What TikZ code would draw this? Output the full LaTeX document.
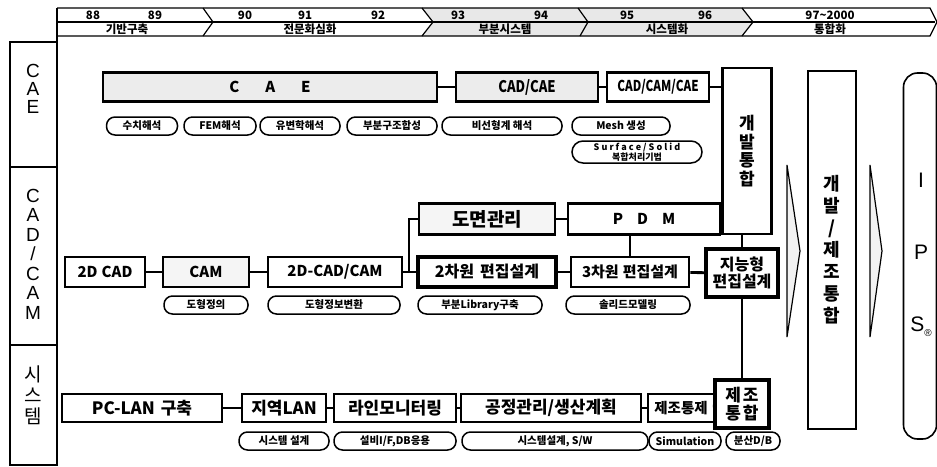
\documentclass[tikz,border=0pt]{standalone}
\usepackage{fontspec}
\setmainfont{Noto Sans CJK KR}
\newfontfamily\lat{Liberation Sans}
\newcommand{\cond}[2][0.82]{\scalebox{#1}[1]{#2}}
\begin{document}
\begin{tikzpicture}[x=1pt,y=-1pt,
  box/.style={draw, line width=2.8pt, inner sep=0pt, fill=white, font=\bfseries\fontsize{15}{17}\selectfont, align=center},
  heavybox/.style={box, line width=4.2pt},
  oval/.style={draw, line width=1.5pt, rounded corners=8.5pt, inner sep=0pt, minimum height=18pt, fill=white, font=\bfseries\fontsize{10.5}{11}\selectfont, align=center},
  conn/.style={line width=2.8pt},
  thin/.style={line width=1.2pt},
  tl/.style={inner sep=0pt, font=\bfseries\fontsize{11.5}{11.5}\selectfont},
  side/.style={inner sep=0pt, align=center},
  shade/.style={fill=gray!18}
]
\useasboundingbox (0,0) rectangle (937,466);
% ---------- timeline ----------
\fill[shade] (422,8) -- (578,8) -- (588,22) -- (580,36) -- (422,36) -- (433,22) -- cycle;
\fill[shade] (578,8) -- (742,8) -- (753,22) -- (742,36) -- (580,36) -- (588,22) -- cycle;
\draw[thin] (57,8) -- (930,8) -- (937,22) -- (930,36) -- (57,36);
\draw[thin] (57,22) -- (935,22);
\draw[thin] (203,8) -- (213,22) -- (203,36);
\draw[thin] (422,8) -- (433,22) -- (422,36);
\draw[thin] (578,8) -- (588,22) -- (580,36);
\draw[thin] (742,8) -- (753,22) -- (742,36);
\node[tl] (y88) at (93,15) {88};
\node[tl] (y89) at (155,15) {89};
\node[tl] (y90) at (245,15) {90};
\node[tl] (y91) at (305,15) {91};
\node[tl] (y92) at (378,15) {92};
\node[tl] (y93) at (458,15) {93};
\node[tl] (y94) at (541,15) {94};
\node[tl] (y95) at (627,15) {95};
\node[tl] (y96) at (705,15) {96};
\node[tl] (y97) at (830,15) {97\textasciitilde2000};
\node[tl] (p1) at (127,29) {기반구축};
\node[tl] (p2) at (310,29) {전문화심화};
\node[tl] (p3) at (505,29) {부분시스템};
\node[tl] (p4) at (667,29) {시스템화};
\node[tl] (p5) at (830,29) {통합화};
% ---------- left column ----------
\draw[thin] (57,8) -- (57,466);
\draw[thin] (10,42) rectangle (57,465);
\draw[thin] (10,167) -- (57,167);
\draw[thin] (10,345) -- (57,345);
\node[side, font=\lat\fontsize{19}{18}\selectfont] (lcae) at (33,89) {C\\A\\E};
\node[side, font=\lat\fontsize{19}{19.5}\selectfont] (lcad) at (33,254) {C\\A\\D\\/\\C\\A\\M};
\node[side, font=\fontsize{19}{21}\selectfont] (lsys) at (33,395) {시\\스\\템};
% ---------- CAE row ----------
\node[box, fill=gray!15, minimum width=334pt, minimum height=29pt] (cae) at (270,87) {C\hspace{26pt}A\hspace{26pt}E};
\node[box, fill=gray!15, minimum width=142pt, minimum height=29pt, font=\bfseries\fontsize{16}{17}\selectfont] (cadcae) at (527,87) {\cond{CAD/CAE}};
\node[box, minimum width=102pt, minimum height=29pt] (cadcamcae) at (658,87) {\cond[0.78]{CAD/CAM/CAE}};
\node[box, minimum width=49pt, minimum height=166pt, font=\bfseries\fontsize{17}{18.5}\selectfont] (dev) at (747,151) {개\\발\\통\\합};
\node[oval, minimum width=71pt] (o1) at (142,126) {수치해석};
\node[oval, minimum width=72pt] (o2) at (220,126) {FEM해석};
\node[oval, minimum width=80pt] (o3) at (300,126) {유변학해석};
\node[oval, minimum width=90pt] (o4) at (392,126) {부분구조합성};
\node[oval, minimum width=120pt] (o5) at (502,126) {비선형계 해석};
\node[oval, minimum width=98pt] (o6) at (621,126) {Mesh 생성};
\node[oval, minimum width=130pt, minimum height=22pt, rounded corners=11pt, font=\bfseries\fontsize{9}{9.5}\selectfont] (o7) at (637,152) {S u r f a c e / S o l i d\\복합처리기법};
\draw[conn] (cae) -- (cadcae);
\draw[conn] (cadcae) -- (cadcamcae);
\draw[conn] (cadcamcae.east) -- (cadcamcae.east -| dev.west);
% ---------- CAD/CAM row ----------
\node[box, minimum width=80pt, minimum height=30pt] (cad2d) at (105,272) {2D\hspace{4pt}CAD};
\node[box, fill=gray!8, minimum width=86pt, minimum height=30pt] (cam) at (206,272) {CAM};
\node[box, minimum width=134pt, minimum height=30pt] (cad2dcam) at (335,272) {2D-CAD/CAM};
\node[heavybox, minimum width=138pt, minimum height=30pt, font=\bfseries\fontsize{16}{17}\selectfont] (ed2) at (487,272) {2차원\hspace{6pt}편집설계};
\node[box, minimum width=118pt, minimum height=30pt] (ed3) at (630,272) {3차원\hspace{4pt}편집설계};
\node[heavybox, minimum width=72pt, minimum height=48pt, font=\bfseries\fontsize{16}{17}\selectfont] (intel) at (742,273) {지능형\\편집설계};
\node[box, fill=gray!8, minimum width=136pt, minimum height=31pt, font=\bfseries\fontsize{19}{19}\selectfont] (dwg) at (487,219) {도면관리};
\node[box, minimum width=152pt, minimum height=31pt] (pdm) at (644,219) {P\hspace{14pt}D\hspace{14pt}M};
\coordinate (j1) at (409,272);
\node[oval, minimum width=84pt] (o8) at (206,305) {도형정의};
\node[oval, minimum width=132pt] (o9) at (334,305) {도형정보변환};
\node[oval, minimum width=124pt] (o10) at (480,305) {부분Library구축};
\node[oval, minimum width=124pt] (o11) at (628,305) {솔리드모델링};
\draw[conn] (cad2d) -- (cam);
\draw[conn] (cam) -- (cad2dcam);
\draw[conn] (cad2dcam) -- (ed2);
\draw[conn] (j1) |- (dwg.west);
\draw[conn] (dwg) -- (pdm);
\draw[conn] (pdm.east) -- (pdm.east -| dev.west);
\draw[conn] (ed3.north) -- (ed3.north |- pdm.south);
\draw[conn] (ed2) -- (ed3);
\draw[conn] (ed3) -- (intel);
\draw[conn] (intel.north) -- (intel.north |- dev.south);
% ---------- system row ----------
\node[box, minimum width=160pt, minimum height=28pt, font=\bfseries\fontsize{17}{17}\selectfont] (pclan) at (142,408) {PC-LAN\hspace{6pt}구축};
\node[box, minimum width=84pt, minimum height=28pt, font=\bfseries\fontsize{17}{17}\selectfont] (lan) at (284,408) {지역LAN};
\node[box, minimum width=122pt, minimum height=28pt, font=\bfseries\fontsize{17}{17}\selectfont] (mon) at (395,408) {라인모니터링};
\node[box, minimum width=180pt, minimum height=28pt, font=\bfseries\fontsize{17}{17}\selectfont] (proc) at (551,408) {공정관리/생산계획};
\node[box, minimum width=66pt, minimum height=28pt, font=\bfseries\fontsize{14.5}{17}\selectfont] (ctrl) at (681,408) {제조통제};
\node[heavybox, minimum width=54pt, minimum height=48pt, font=\bfseries\fontsize{17}{18}\selectfont] (mfg) at (742,404) {제\hspace{2pt}조\\통\hspace{2pt}합};
\node[oval, minimum width=90pt] (o12) at (284,441) {시스템 설계};
\node[oval, minimum width=122pt] (o13) at (395,441) {설비I/F,DB응용};
\node[oval, minimum width=186pt] (o14) at (555,441) {시스템설계, S/W};
\node[oval, minimum width=72pt] (o15) at (685,441) {Simulation};
\node[oval, minimum width=54pt] (o16) at (753,441) {분산D/B};
\draw[conn] (pclan) -- (lan);
\draw[conn] (lan) -- (mon);
\draw[conn] (mon) -- (proc);
\draw[conn] (proc) -- (ctrl);
\draw[conn] (ctrl) -- (mfg);
\draw[conn] (intel) -- (mfg);
% ---------- right side ----------
\draw[thin, fill=gray!10] (787,165) -- (800,251) -- (787,337) -- cycle;
\node[box, line width=2.2pt, minimum width=48pt, minimum height=358pt, font=\bfseries\fontsize{18}{22}\selectfont] (dm) at (832,250) {개\\발\\/\\제\\조\\통\\합};
\draw[thin, fill=gray!10] (870,165) -- (882,251) -- (870,337) -- cycle;
\node[draw, line width=1.6pt, rounded corners=14pt, minimum width=33pt, minimum height=366pt, inner sep=0pt] (ips) at (920,256) {};
\node[side, font=\lat\fontsize{21}{72}\selectfont] (ipst) at (921,255) {I\\P\\S\raisebox{-5pt}{\fontsize{10}{10}\selectfont\textregistered}};
\end{tikzpicture}
\end{document}
